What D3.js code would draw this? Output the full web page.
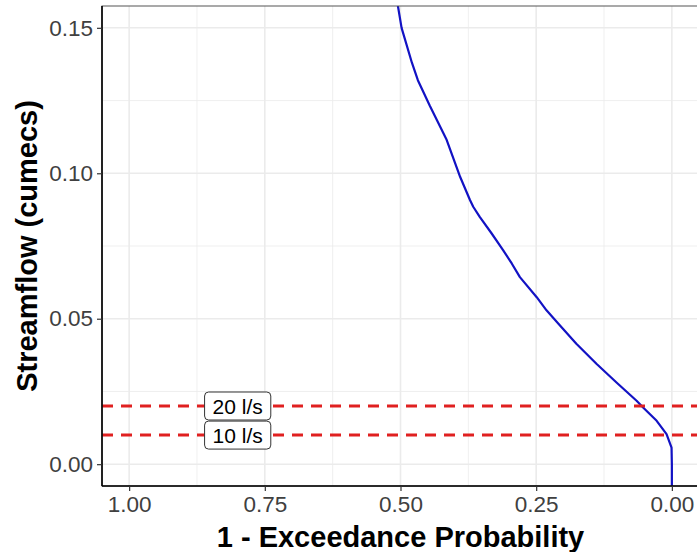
<!DOCTYPE html>
<html>
<head>
<meta charset="utf-8">
<script src="https://cdn.jsdelivr.net/npm/d3@7"></script>
<style>
  body { margin: 0; background: #fff; }
  text { font-family: "Liberation Sans", Arial, sans-serif; }
</style>
</head>
<body>
<svg id="chart" width="697" height="552"></svg>
<script>
// flow duration curve
const prob = [0.507, 0.498, 0.479, 0.468, 0.446, 0.415, 0.390, 0.372, 0.366, 0.354, 0.332, 0.311,
  0.295, 0.280, 0.249, 0.231, 0.209, 0.176, 0.139, 0.102, 0.065, 0.053, 0.028, 0.0098, 0.0006, 0, 0];
const flow = [0.160, 0.150, 0.138, 0.132, 0.1232, 0.1115, 0.0987, 0.0908, 0.0885, 0.0850, 0.0793, 0.0736,
  0.0690, 0.0643, 0.0574, 0.0529, 0.0483, 0.0414, 0.0345, 0.0281, 0.0218, 0.0195, 0.0149, 0.0103, 0.0057, 0, -0.01];

const thresholds = [0.02, 0.01];
const thresholdLabels = ["20 l/s", "10 l/s"];
const labelProb = 0.80;

const xTicks = [1.00, 0.75, 0.50, 0.25, 0.00];
const xMinor = [0.875, 0.625, 0.375, 0.125];
const yTicks = [0.00, 0.05, 0.10, 0.15];
const yMinor = [0.025, 0.075, 0.125];

const svg = d3.select("#chart");
const panel = { left: 102, right: 699, top: 6, bottom: 486 };

const x = d3.scaleLinear().domain([1.05, -0.05]).range([panel.left, panel.right]);
const y = d3.scaleLinear().domain([-0.0075, 0.1575]).range([panel.bottom, panel.top]);

svg.append("defs").append("clipPath").attr("id", "clip")
  .append("rect")
  .attr("x", panel.left).attr("y", panel.top)
  .attr("width", panel.right - panel.left).attr("height", panel.bottom - panel.top);

const g = svg.append("g").attr("clip-path", "url(#clip)");

// grid
g.selectAll(".xminor").data(xMinor).join("line")
  .attr("x1", d => x(d)).attr("x2", d => x(d))
  .attr("y1", panel.top).attr("y2", panel.bottom)
  .attr("stroke", "#ebebeb").attr("stroke-width", 0.8);
g.selectAll(".yminor").data(yMinor).join("line")
  .attr("y1", d => y(d)).attr("y2", d => y(d))
  .attr("x1", panel.left).attr("x2", panel.right)
  .attr("stroke", "#ebebeb").attr("stroke-width", 0.8);
g.selectAll(".xmajor").data(xTicks).join("line")
  .attr("x1", d => x(d)).attr("x2", d => x(d))
  .attr("y1", panel.top).attr("y2", panel.bottom)
  .attr("stroke", "#ebebeb").attr("stroke-width", 1.6);
g.selectAll(".ymajor").data(yTicks).join("line")
  .attr("y1", d => y(d)).attr("y2", d => y(d))
  .attr("x1", panel.left).attr("x2", panel.right)
  .attr("stroke", "#ebebeb").attr("stroke-width", 1.6);

// curve
const line = d3.line().x(d => x(d[0])).y(d => y(d[1]));
g.append("path")
  .datum(d3.zip(prob, flow))
  .attr("fill", "none")
  .attr("stroke", "#1212c4")
  .attr("stroke-width", 2.2)
  .attr("stroke-linejoin", "round")
  .attr("d", line);

// threshold lines
g.selectAll(".thr").data(thresholds).join("line")
  .attr("x1", panel.left).attr("x2", panel.right)
  .attr("y1", d => y(d)).attr("y2", d => y(d))
  .attr("stroke", "#e02020")
  .attr("stroke-width", 3)
  .attr("stroke-dasharray", "11,8");

// labels
thresholds.forEach((t, i) => {
  const lg = svg.append("g").attr("transform", `translate(${x(labelProb)},${y(t)})`);
  const rect = lg.append("rect");
  const txt = lg.append("text")
    .attr("text-anchor", "middle")
    .attr("y", 7.5)
    .attr("font-size", 21)
    .attr("fill", "#000")
    .text(thresholdLabels[i]);
  const w = txt.node().getComputedTextLength() + 16;
  rect.attr("x", -w / 2).attr("y", -14).attr("width", w).attr("height", 28)
    .attr("rx", 4).attr("fill", "#fff").attr("stroke", "#333").attr("stroke-width", 1);
});

// panel border
svg.append("rect")
  .attr("x", panel.left).attr("y", panel.top)
  .attr("width", panel.right - panel.left).attr("height", panel.bottom - panel.top)
  .attr("fill", "none").attr("stroke", "#555").attr("stroke-width", 1);

// axes
const xAxis = d3.axisBottom(x).tickValues(xTicks).tickFormat(d3.format(".2f")).tickSize(5).tickPadding(5);
const yAxis = d3.axisLeft(y).tickValues(yTicks).tickFormat(d3.format(".2f")).tickSize(5).tickPadding(4);

const xg = svg.append("g").attr("transform", `translate(0,${panel.bottom})`).call(xAxis);
const yg = svg.append("g").attr("transform", `translate(${panel.left},0)`).call(yAxis);

[xg, yg].forEach(a => {
  a.select(".domain").attr("stroke", "#000").attr("stroke-width", 1.6);
  a.selectAll(".tick line").attr("stroke", "#333").attr("stroke-width", 1.2);
  a.selectAll(".tick text").attr("fill", "#404040").attr("font-size", 22.5)
    .attr("font-family", "Liberation Sans, Arial, sans-serif");
});
xg.select(".domain").attr("d", `M${panel.left},0H${panel.right}`);
yg.select(".domain").attr("d", `M0,${panel.top}V${panel.bottom}`);

// axis titles
svg.append("text")
  .attr("x", (panel.left + panel.right) / 2).attr("y", 547)
  .attr("text-anchor", "middle")
  .attr("font-size", 29).attr("font-weight", "bold")
  .text("1 - Exceedance Probability");

svg.append("text")
  .attr("transform", `translate(37,${(panel.top + panel.bottom) / 2}) rotate(-90)`)
  .attr("text-anchor", "middle")
  .attr("font-size", 29).attr("font-weight", "bold")
  .text("Streamflow (cumecs)");
</script>
</body>
</html>
